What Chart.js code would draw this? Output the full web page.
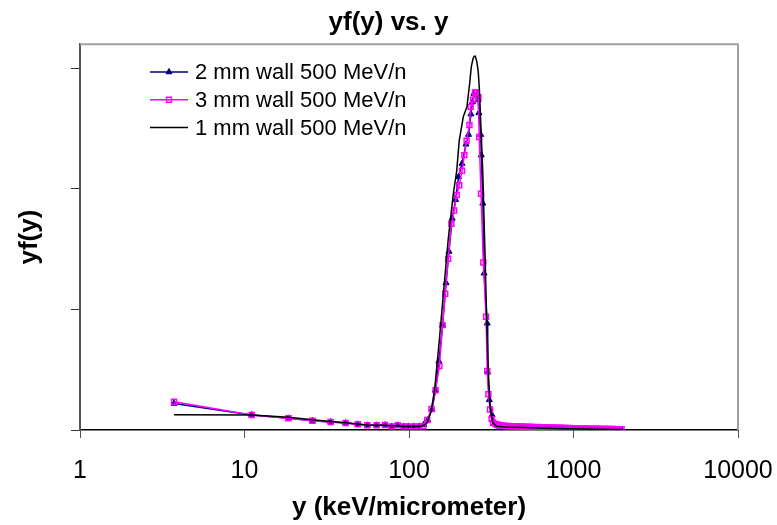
<!DOCTYPE html>
<html>
<head>
<meta charset="utf-8">
<title>yf(y) vs. y</title>
<script src="https://cdn.jsdelivr.net/npm/chart.js@4.4.0/dist/chart.umd.min.js"></script>
<style>
  body { margin: 0; background: #fff; }
</style>
</head>
<body>
<canvas id="chart" width="777" height="525"></canvas>
<script>
// series (y in keV/um, yf(y) in tick units)
const seriesNames = ['2 mm wall 500 MeV/n', '3 mm wall 500 MeV/n', '1 mm wall 500 MeV/n'];

const x2mm = [3.73, 11.06, 18.5, 25.9, 33.4, 41.2, 48.8, 55.8, 63.6, 71.5, 78.5, 85.4, 92.4, 99, 107, 115,
  123, 130, 138, 145, 152, 160, 168, 175, 183, 192, 200, 210, 222, 230, 238, 243, 248, 258, 263, 266, 273, 275,
  281, 286, 299, 301, 308, 320, 332,
  345, 355, 366, 378, 390, 403, 416, 430, 445, 460, 476, 492, 510, 528, 547, 566, 586, 607, 628, 650, 675, 700,
  725, 752, 780, 810, 840, 870, 905, 940, 975, 1010, 1050, 1090, 1130, 1175, 1220, 1270, 1320, 1370, 1420, 1480,
  1540, 1600, 1660, 1730, 1800, 1880, 1960];
const y2mm = [0.22, 0.124, 0.097, 0.077, 0.066, 0.058, 0.047, 0.039, 0.039, 0.041, 0.03, 0.039, 0.03, 0.03, 0.03, 0.03,
  0.045, 0.083, 0.17, 0.33, 0.57, 0.87, 1.22, 1.48, 1.755, 1.91, 2.10, 2.21, 2.37, 2.45, 2.62, 2.72, 2.79, 2.78, 2.74, 2.63, 2.45, 2.28,
  1.88, 1.30, 0.885, 0.48, 0.25, 0.124, 0.06,
  0.035, 0.03, 0.028, 0.026, 0.025, 0.024, 0.023, 0.022, 0.022, 0.021, 0.02, 0.02, 0.019, 0.018, 0.018, 0.017, 0.017,
  0.016, 0.016, 0.015, 0.015, 0.014, 0.014, 0.013, 0.013, 0.012, 0.012, 0.011, 0.011, 0.01, 0.01, 0.01, 0.009, 0.009,
  0.009, 0.008, 0.008, 0.008, 0.007, 0.007, 0.007, 0.006, 0.006, 0.006, 0.005, 0.005, 0.005, 0.005, 0.004];

const x3mm = [3.73, 11.06, 18.5, 25.9, 33.4, 41.2, 48.8, 55.8, 63.6, 71.5, 78.5, 85.4, 92.4, 99, 107, 115,
  122, 129, 137, 145, 153, 160, 166, 173, 181, 188, 195, 202, 210, 217, 224, 233, 237, 245, 252, 258, 264, 267,
  274, 283, 294, 299, 304, 311, 318, 325,
  335, 345, 355, 366, 378, 390, 403, 416, 430, 445, 460, 476, 492, 510, 528, 547, 566, 586, 607, 628, 650, 675, 700,
  725, 752, 780, 810, 840, 870, 905, 940, 975, 1010, 1050, 1090, 1130, 1175, 1220, 1270, 1320, 1370, 1420, 1480,
  1540, 1600, 1660, 1730, 1800, 1880, 1960];
const y3mm = [0.235, 0.124, 0.097, 0.077, 0.066, 0.058, 0.047, 0.039, 0.039, 0.041, 0.03, 0.039, 0.03, 0.03, 0.03, 0.03,
  0.033, 0.083, 0.174, 0.33, 0.53, 0.87, 1.13, 1.42, 1.71, 1.82, 1.95, 2.03, 2.15, 2.28, 2.40, 2.53, 2.68, 2.74, 2.80, 2.80, 2.76, 2.43,
  1.96, 1.39, 0.94, 0.49, 0.296, 0.17, 0.09, 0.06,
  0.05, 0.045, 0.04, 0.038, 0.035, 0.034, 0.033, 0.032, 0.03, 0.031, 0.029, 0.028, 0.03, 0.027, 0.026, 0.027, 0.025,
  0.024, 0.025, 0.023, 0.022, 0.022, 0.021, 0.02, 0.02, 0.019, 0.018, 0.018, 0.017, 0.016, 0.016, 0.015, 0.014, 0.014,
  0.013, 0.013, 0.012, 0.012, 0.011, 0.011, 0.01, 0.01, 0.009, 0.009, 0.008, 0.008, 0.008, 0.007, 0.007, 0.007];

const x1mm = [3.73, 11.06, 18.5, 25.9, 33.4, 41.2, 48.8, 55.8, 63.6, 71.5, 78.5, 85.4, 92.4, 99, 107, 115,
  122, 128, 136, 143, 153, 164, 173, 186, 195, 202, 214, 225, 234, 239, 245, 249, 253, 258, 262, 264, 268, 274,
  281, 290, 297, 304, 311, 323, 340, 380, 430, 490, 560, 650, 750, 870, 1000, 1150, 1320, 1520, 1740, 1960];
const y1mm = [0.127, 0.125, 0.105, 0.085, 0.07, 0.06, 0.05, 0.042, 0.04, 0.04, 0.035, 0.035, 0.03, 0.03, 0.03, 0.03,
  0.035, 0.055, 0.15, 0.33, 0.75, 1.22, 1.575, 1.96, 2.15, 2.40, 2.60, 2.68, 2.88, 3.01, 3.08, 3.10, 3.10, 3.06, 3.00, 2.96, 2.82, 2.50,
  2.13, 1.44, 0.89, 0.47, 0.19, 0.06, 0.03, 0.025, 0.022, 0.02, 0.018, 0.015, 0.013, 0.011, 0.01, 0.008, 0.007, 0.006, 0.005, 0.004];

const xTickValues = [1, 10, 100, 1000, 10000];
const xTickLabels = ['1', '10', '100', '1000', '10000'];
const yTickValues = [0, 1, 2, 3];

const FONT = '"Liberation Sans", Arial, sans-serif';

function toPoints(xs, ys) {
  return xs.map((x, i) => ({ x: x, y: ys[i] }));
}

// light grey frame on top and right like the Excel plot area
const framePlugin = {
  id: 'frame',
  beforeDatasetsDraw(chart) {
    const { ctx, chartArea: a } = chart;
    ctx.save();
    ctx.strokeStyle = '#a0a0a0';
    ctx.lineWidth = 2;
    ctx.beginPath();
    ctx.moveTo(a.left, a.top);
    ctx.lineTo(a.right, a.top);
    ctx.lineTo(a.right, a.bottom);
    ctx.stroke();
    ctx.restore();
  }
};

// legend sits inside the plot, so draw it by hand
const insideLegend = {
  id: 'insideLegend',
  afterDraw(chart) {
    const ctx = chart.ctx;
    ctx.save();
    ctx.font = '22px ' + FONT;
    ctx.textBaseline = 'middle';
    ctx.textAlign = 'left';
    chart.data.datasets.forEach((ds, i) => {
      const y = 72 + i * 27.8;
      ctx.strokeStyle = ds.borderColor;
      ctx.lineWidth = ds.borderWidth;
      ctx.beginPath();
      ctx.moveTo(150, y);
      ctx.lineTo(188, y);
      ctx.stroke();
      if (ds.pointRadius > 0) {
        ctx.fillStyle = ds.pointBackgroundColor;
        ctx.strokeStyle = ds.pointBorderColor;
        ctx.lineWidth = ds.pointBorderWidth;
        Chart.helpers.drawPoint(ctx, { pointStyle: ds.pointStyle, radius: ds.pointRadius, borderWidth: ds.pointBorderWidth, rotation: 0 }, 169, y);
      }
      ctx.fillStyle = '#000';
      ctx.fillText(ds.label, 195, y + 1);
    });
    ctx.restore();
  }
};

new Chart(document.getElementById('chart'), {
  type: 'scatter',
  data: {
    datasets: [
      {
        label: seriesNames[0],
        data: toPoints(x2mm, y2mm),
        showLine: true,
        borderColor: '#000080',
        borderWidth: 1.5,
        pointStyle: 'triangle',
        pointRadius: 3.5,
        pointBackgroundColor: '#000080',
        pointBorderColor: '#000080',
        pointBorderWidth: 1,
        order: 3
      },
      {
        label: seriesNames[1],
        data: toPoints(x3mm, y3mm),
        showLine: true,
        borderColor: '#ff00ff',
        borderWidth: 1.5,
        pointStyle: 'rect',
        pointRadius: 3.5,
        pointBackgroundColor: 'rgba(0,0,0,0)',
        pointBorderColor: '#ff00ff',
        pointBorderWidth: 1.5,
        order: 2
      },
      {
        label: seriesNames[2],
        data: toPoints(x1mm, y1mm),
        showLine: true,
        borderColor: '#000000',
        borderWidth: 1.5,
        pointRadius: 0,
        pointBackgroundColor: '#000000',
        pointBorderColor: '#000000',
        pointBorderWidth: 0,
        order: 1
      }
    ]
  },
  options: {
    responsive: false,
    animation: false,
    layout: { padding: { left: 0, right: 0, top: 0, bottom: 0 } },
    plugins: {
      legend: { display: false },
      tooltip: { enabled: false },
      title: {
        display: true,
        text: 'yf(y) vs. y',
        color: '#000',
        font: { family: FONT, size: 26, weight: 'bold' },
        padding: { top: 7, bottom: 6 }
      }
    },
    scales: {
      x: {
        type: 'logarithmic',
        min: 1,
        max: 10000,
        afterBuildTicks: (scale) => { scale.ticks = xTickValues.map(v => ({ value: v })); },
        afterFit: (scale) => {
          scale.height = 95;
          scale.paddingLeft = 0;
          scale.paddingRight = 39;
        },
        ticks: {
          color: '#000',
          font: { family: FONT, size: 25 },
          padding: 18,
          maxRotation: 0,
          autoSkip: false,
          callback: (value, index) => xTickLabels[index]
        },
        grid: { drawOnChartArea: false, drawTicks: true, tickLength: 8, color: '#555' },
        border: { display: true, color: '#000', width: 1.5 },
        title: {
          display: true,
          text: 'y (keV/micrometer)',
          color: '#000',
          font: { family: FONT, size: 26, weight: 'bold' },
          padding: { top: 0, bottom: 2 }
        }
      },
      y: {
        min: 0,
        max: 3.2,
        afterBuildTicks: (scale) => { scale.ticks = yTickValues.map(v => ({ value: v })); },
        afterFit: (scale) => { scale.width = 80; },
        ticks: { display: false },
        grid: { drawOnChartArea: false, drawTicks: true, tickLength: 9, color: '#333' },
        border: { display: true, color: '#555', width: 2 },
        title: {
          display: true,
          text: 'yf(y)',
          color: '#000',
          font: { family: FONT, size: 26, weight: 'bold' },
          padding: { top: 14, bottom: 0 }
        }
      }
    }
  },
  plugins: [framePlugin, insideLegend]
});
</script>
</body>
</html>
